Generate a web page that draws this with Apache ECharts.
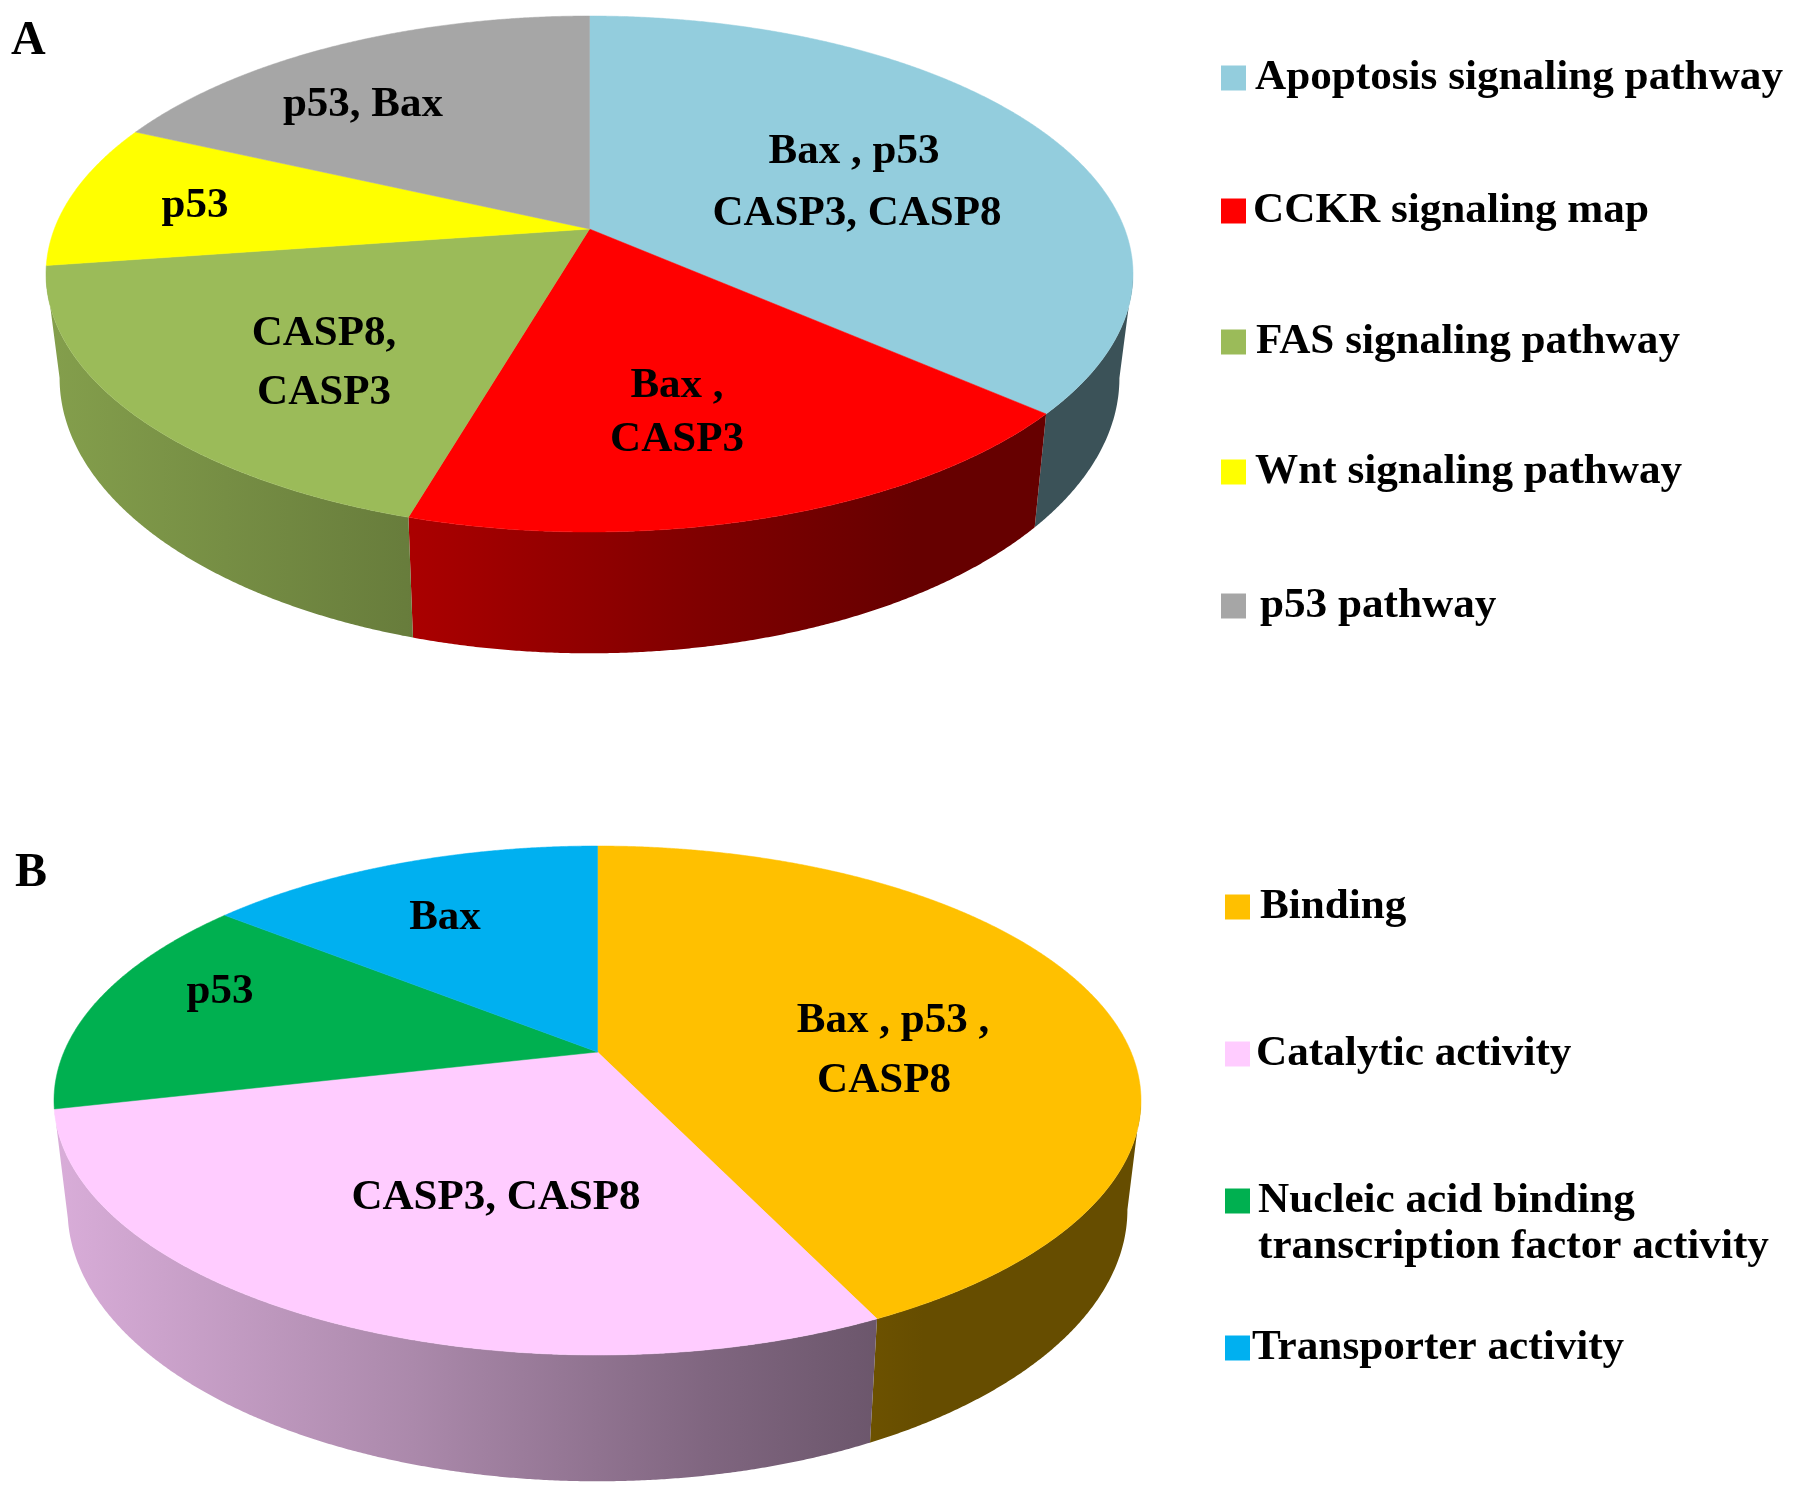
<!DOCTYPE html>
<html><head><meta charset="utf-8">
<style>html,body{margin:0;padding:0;background:#fff}#c{width:1795px;height:1494px}</style>
<script src="https://cdn.jsdelivr.net/npm/echarts@6/dist/echarts.min.js"></script>
</head><body><div id="c"></div>
<script>
// ---- data ----
const categoriesA = ['Apoptosis signaling pathway', 'CCKR signaling map', 'FAS signaling pathway', 'Wnt signaling pathway', 'p53 pathway'];
const valuesA = [4, 2, 2, 1, 2];
const sliceLabelsA = [['Bax , p53', 'CASP3, CASP8'], ['Bax ,', 'CASP3'], ['CASP8,', 'CASP3'], ['p53'], ['p53, Bax']];
const categoriesB = ['Binding', 'Catalytic activity', 'Nucleic acid binding\ntranscription factor activity', 'Transporter activity'];
const valuesB = [3, 2, 1, 1];
const sliceLabelsB = [['Bax , p53 ,', 'CASP8'], ['CASP3, CASP8'], ['p53'], ['Bax']];
const colorsA = ['#93CDDD', '#FF0000', '#9BBB59', '#FFFF00', '#A6A6A6'];
const colorsB = ['#FFC000', '#FFCCFF', '#00B050', '#00B0F0'];

// ---- layout and style ----
const geomA = {cx: 589.5, cy: 229, rx: 543.5, back: 213, front: 303, depth: 101, shrinkX: 0.975, stretchY: 1.067};
const geomB = {cx: 597.5, cy: 1052, rx: 543.5, back: 206, front: 303, depth: 106, shrinkX: 0.975, stretchY: 1.067};
const labelPosA = [[[854, 152], [857, 214]], [[677, 386], [677, 440]], [[324, 334], [324, 393]], [[195, 206]], [[363, 105]]];
const labelPosB = [[[893, 1021], [884, 1081]], [[496, 1198]], [[220, 992]], [[445, 918]]];
const legendPosA = [[1221, 78, 4], [1221, 211, 2], [1221, 342, 5], [1221, 472, 4], [1221, 606, 9]];
const legendPosB = [[1225, 907, 5], [1225, 1054, 1], [1225, 1201, 3], [1225, 1348, -3]];
const wallShade = [[0, .85], [.33, .67], [.6, .5], [.8, .40], [1, .40]];
const FONT = '"Liberation Serif","Times New Roman",serif';
const LABEL_SIZE = 43, LEGEND_SIZE = 43.2, LEGEND_LINE = 46, SWATCH = 25, MIN_WALL = 3 * Math.PI / 180;

function shade(hex, m) {
  const n = parseInt(hex.slice(1), 16);
  return 'rgb(' + [n >> 16 & 255, n >> 8 & 255, n & 255].map(c => Math.round(c * m)).join(',') + ')';
}

// perspective view of a flat disc: the disc centre sits above the centre of its ellipse
function makeProjector(g) {
  const B = 2 / (1 / g.back + 1 / g.front);
  const k = B / g.back - 1;
  const A = g.rx * Math.sqrt(1 - k * k);
  return {
    k,
    at(angle, sx, sy, dy) {       // angle is clockwise from 12 o'clock
      const u = Math.sin(angle), v = Math.cos(angle), w = 1 + k * v;
      return [g.cx + sx * A * u / w, g.cy + dy - sy * B * v / w];
    }
  };
}

function sliceRenderer(g, values, index, color, lines, pos) {
  const P = makeProjector(g);
  const total = values.reduce((a, b) => a + b, 0);
  const before = values.slice(0, index).reduce((a, b) => a + b, 0);
  const visStart = Math.PI / 2 + Math.asin(P.k);      // silhouette, right side
  const visEnd = 2 * Math.PI - visStart;              // silhouette, left side
  return function (params, api) {
    const val = api.value(0);
    const a0 = before / total * 2 * Math.PI, a1 = (before + val) / total * 2 * Math.PI;
    const step = Math.PI / 720;
    const children = [];
    const w0 = Math.max(a0, visStart), w1 = Math.min(a1, visEnd);
    if (w1 - w0 > MIN_WALL) {
      const upper = [], lower = [];
      for (let a = w0; ; a += step) {
        const t = Math.min(a, w1);
        upper.push(P.at(t, 1, 1, 0));
        lower.push(P.at(t, g.shrinkX, g.stretchY, g.depth));
        if (t >= w1) break;
      }
      children.push({
        type: 'polygon', shape: {points: upper.concat(lower.reverse())},
        style: {
          fill: {
            type: 'linear', global: true, x: g.cx - g.rx, y: 0, x2: g.cx + g.rx, y2: 0,
            colorStops: wallShade.map(s => ({offset: s[0], color: shade(color, s[1])}))
          }
        }
      });
    }
    const top = [P.at(0, 0, 0, 0)];
    for (let a = a0; ; a += step) {
      const t = Math.min(a, a1);
      top.push(P.at(t, 1, 1, 0));
      if (t >= a1) break;
    }
    children.push({type: 'polygon', shape: {points: top}, style: {fill: color, stroke: color, lineWidth: 0.5}});
    lines.forEach((text, i) => children.push({
      type: 'text', z2: 50,
      style: {
        text, x: pos[i][0], y: pos[i][1], fill: '#000', align: 'center', verticalAlign: 'middle',
        font: 'bold ' + LABEL_SIZE + 'px ' + FONT
      }
    }));
    return {type: 'group', children};
  };
}

function buildSeries(g, cats, values, colors, labels, pos) {
  return cats.map((name, i) => ({
    type: 'custom', name, coordinateSystem: 'none', silent: true, animation: false,
    itemStyle: {color: colors[i]},
    data: [values[i]],
    renderItem: sliceRenderer(g, values, i, colors[i], labels[i], pos[i])
  }));
}

function buildLegends(cats, pos) {
  return cats.map((name, i) => {
    const two = name.indexOf('\n') >= 0;
    const boxH = (two ? 3 : 1) * LEGEND_LINE;
    return {
      data: [name], orient: 'horizontal', padding: 0, selectedMode: false,
      left: pos[i][0], top: pos[i][1] - boxH / 2,
      icon: 'rect', itemWidth: SWATCH, itemHeight: SWATCH,
      // a blank first line keeps the swatch level with the first line of a two-line name
      formatter: n => (two ? '\n' : '') + n,
      textStyle: {
        fontFamily: FONT, fontWeight: 'bold', fontSize: LEGEND_SIZE, color: '#000',
        lineHeight: LEGEND_LINE, padding: [0, 0, 0, pos[i][2]]
      }
    };
  });
}

const chart = echarts.init(document.getElementById('c'), null, {renderer: 'canvas'});
chart.setOption({
  backgroundColor: '#fff',
  animation: false,
  legend: buildLegends(categoriesA, legendPosA).concat(buildLegends(categoriesB, legendPosB)),
  graphic: [
    {type: 'text', style: {text: 'A', x: 11, y: 42, verticalAlign: 'middle', fill: '#000', font: 'bold 48px ' + FONT}},
    {type: 'text', style: {text: 'B', x: 15, y: 874, verticalAlign: 'middle', fill: '#000', font: 'bold 48px ' + FONT}}
  ],
  series: buildSeries(geomA, categoriesA, valuesA, colorsA, sliceLabelsA, labelPosA)
    .concat(buildSeries(geomB, categoriesB, valuesB, colorsB, sliceLabelsB, labelPosB))
});
</script></body></html>
